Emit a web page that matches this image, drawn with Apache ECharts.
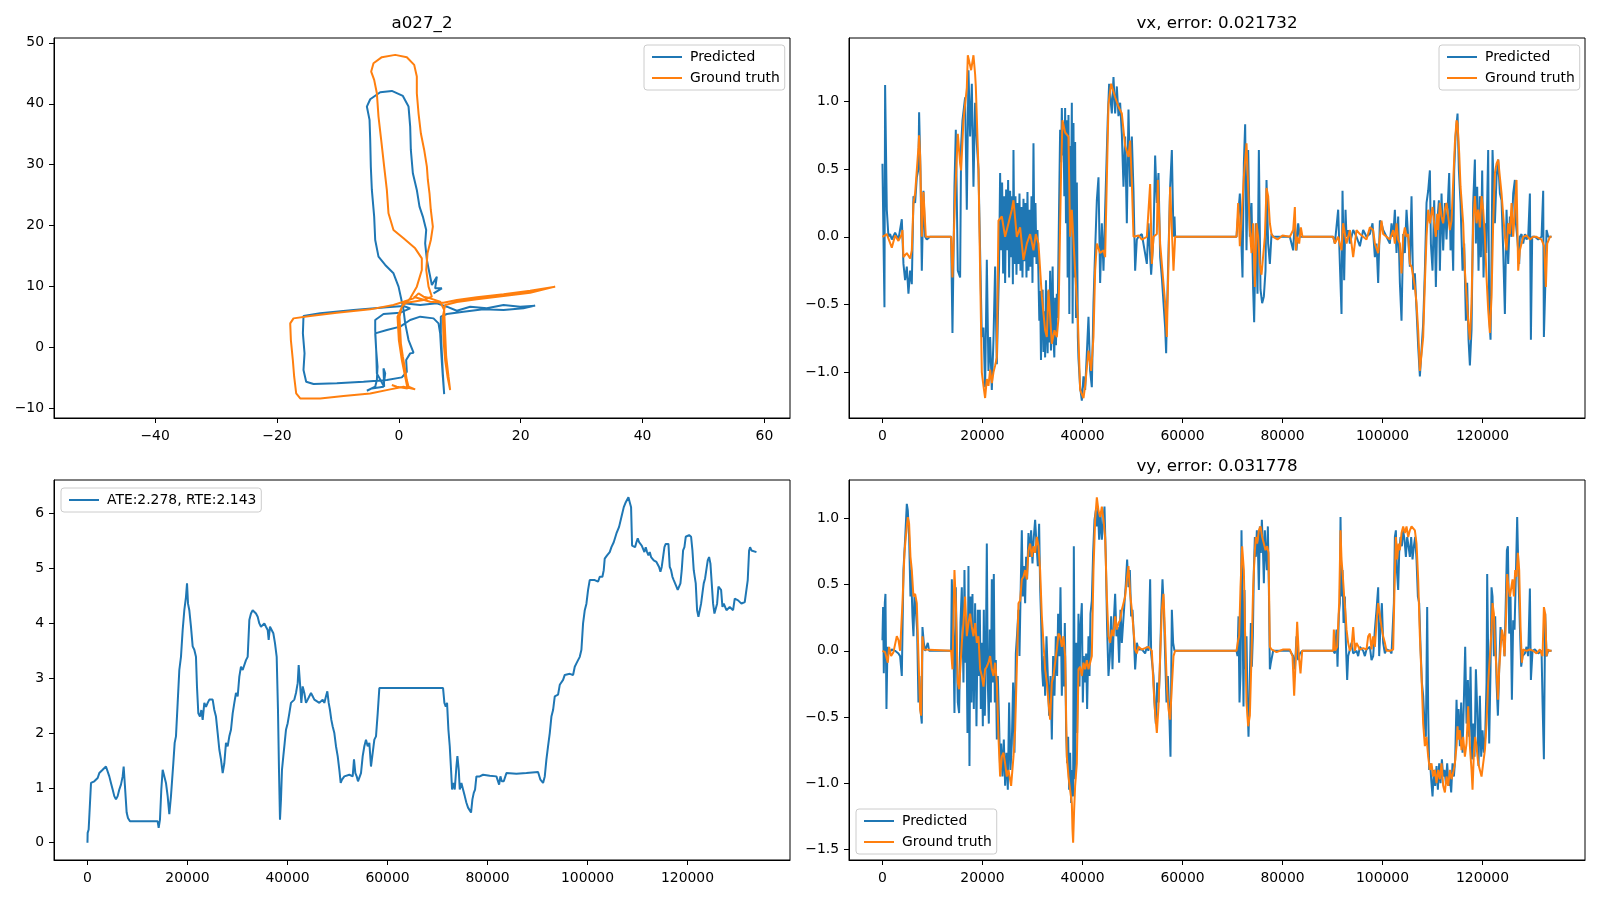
<!DOCTYPE html>
<html>
<head>
<meta charset="utf-8">
<title>a027_2</title>
<script src="https://cdn.jsdelivr.net/npm/echarts@6.0.0/dist/echarts.min.js"></script>
<style>
html, body { margin: 0; padding: 0; background: #fff; }
#chart { width: 1600px; height: 900px; }
</style>
</head>
<body>
<div id="chart"></div>
<script>
// ---------- tick labels ----------
var trajXTicks = [-40, -20, 0, 20, 40, 60];
var trajYTicks = [-10, 0, 10, 20, 30, 40, 50];
var timeTicks = [0, 20000, 40000, 60000, 80000, 100000, 120000];
var vxTicks = [-1.0, -0.5, 0.0, 0.5, 1.0];
var vyTicks = [-1.5, -1.0, -0.5, 0.0, 0.5, 1.0];
var ateTicks = [0, 1, 2, 3, 4, 5, 6];

var titles = ['a027_2', 'vx, error: 0.021732', 'vy, error: 0.031778'];
var ateLabel = 'ATE:2.278, RTE:2.143';

// ---------- trajectory [x, y] ----------
var trajPred = [[0.77,7.23],[3.50,6.96],[6.24,7.23],[7.88,6.68],[9.52,6.02],[11.71,6.68],[14.44,6.41],[17.18,6.96],[19.91,6.68],[22.37,6.85],
  [20.46,6.41],[17.18,6.13],[13.89,6.24],[10.61,5.86],[7.88,5.48],[6.89,5.04],[6.89,2.30],[7.06,-0.99],[7.22,-4.27],[7.44,-7.67],
  [7.22,-4.82],[7.0,-1.53],[6.78,2.30],[6.51,3.94],[5.69,4.76],[3.50,5.04],[1.86,4.49],[0.22,3.40],[-1.97,2.85],[-3.88,2.30],
  [-3.72,-0.44],[-3.50,-3.18],[-3.61,-5.37],[-3.88,-6.46],[-5.25,-7.12],[-4.43,-6.74],[-2.52,-6.46],[-2.24,-4.27],[-2.52,-3.45],[-2.41,-6.46],
  [-3.61,-4.27],[-3.72,-0.44],[-3.88,2.85],[-3.88,4.49],[-2.52,5.48],[0.22,5.70],[1.86,6.41],[0.77,6.79],[-1.97,6.57],[-7.44,6.13],
  [-12.91,5.59],[-15.65,5.15],[-15.75,2.30],[-15.48,-0.99],[-15.65,-3.72],[-15.21,-5.64],[-14.0,-6.02],[-10.18,-5.91],[-5.80,-5.64],[-1.97,-5.37],
  [0.49,-4.93],[1.31,-4.0],[1.20,-2.08],[1.86,-0.99],[2.41,-0.88],[1.59,1.20],[1.04,3.94],[0.77,6.13],[0.49,7.50],[-0.05,9.97],
  [-0.88,12.16],[-2.24,13.53],[-3.34,14.90],[-3.88,17.63],[-4.05,21.47],[-4.43,25.85],[-4.60,29.68],[-4.70,34.06],[-4.81,37.35],[-5.25,39.54],
  [-4.70,40.74],[-3.06,41.89],[-1.15,42.11],[0.66,41.29],[1.59,39.54],[1.86,36.25],[1.97,32.42],[2.30,28.59],[2.95,25.85],[3.39,23.11],
  [3.94,21.47],[4.49,19.28],[4.32,17.09],[4.60,14.35],[5.03,12.16],[5.42,10.24],[6.24,11.61],[5.96,9.69],[7.06,9.69],[5.69,8.87]];

var trajTrue = [[2.41,8.32],[5.14,7.50],[7.33,7.34],[9.52,7.78],[12.80,8.21],[17.18,8.71],[21.55,9.31],[25.66,9.97],[25.38,9.69],[21.55,8.98],
  [17.18,8.43],[12.80,7.89],[9.52,7.45],[7.60,6.96],[7.22,5.04],[7.33,1.20],[7.60,-2.08],[7.99,-4.82],[8.42,-7.01],[8.15,-4.82],
  [7.77,-1.53],[7.60,2.30],[7.44,6.13],[6.78,7.50],[5.14,8.05],[4.05,8.32],[3.23,8.87],[2.41,8.05],[0.77,7.50],[-0.88,6.96],
  [-4.70,6.24],[-10.18,5.70],[-14.55,5.15],[-17.29,4.76],[-17.83,3.94],[-17.72,1.20],[-17.40,-2.08],[-17.18,-4.82],[-16.85,-7.56],[-16.19,-8.38],
  [-12.91,-8.38],[-9.08,-8.0],[-4.70,-7.56],[-1.42,-6.90],[0.77,-6.46],[2.68,-6.90],[1.59,-6.46],[1.31,-5.37],[1.04,-3.72],[0.66,-1.53],
  [0.33,0.66],[0.22,2.85],[0.11,5.04],[0.49,6.68],[1.86,8.05],[2.95,9.97],[3.77,12.71],[3.77,14.62],[2.68,16.26],[0.77,17.91],
  [-0.88,19.28],[-1.70,22.02],[-1.97,25.85],[-2.41,29.68],[-2.90,34.06],[-3.34,37.90],[-3.61,41.73],[-4.05,43.92],[-4.54,45.29],[-4.16,46.66],
  [-2.79,47.65],[-0.60,48.03],[1.31,47.65],[2.52,46.39],[2.95,44.47],[2.95,41.73],[3.23,38.44],[3.61,35.16],[4.16,32.42],[4.60,29.68],
  [4.76,27.49],[5.03,25.30],[5.25,22.56],[5.58,19.82],[5.25,17.63],[4.70,15.44],[4.49,12.71],[4.87,9.97],[5.42,8.32],[4.05,7.78],
  [0.77,7.23],[-0.22,5.04],[0,1.20],[0.49,-2.08],[1.04,-4.82],[1.42,-6.74],[-0.33,-6.46],[-1.15,-6.19]];

// ---------- vx [sample, value] ----------
var vxPred = [[0,0.54],[200,0.0],[400,-0.52],[530,1.12],[870,0.2],[1200,0],[1530,0.02],[1870,-0.02],[2530,0.03],[3200,-0.02],
  [3870,0.13],[4200,-0.2],[4530,-0.32],[4870,-0.22],[5200,-0.42],[5530,-0.25],[5870,-0.35],[6200,0.3],[6530,0.25],[6870,0.44],
  [7200,0.5],[7330,0.92],[7600,0.49],[7870,-0.25],[8200,0.34],[8530,0],[8870,-0.02],[9200,-0.03],[9500,0],[13730,0],
  [14000,-0.71],[14400,0.37],[14670,0.79],[15070,-0.25],[15530,-0.3],[15730,0.67],[16000,0.86],[16530,1.03],[16870,0.2],[17200,1.23],
  [17530,0.74],[17870,1.13],[18200,0.37],[18530,0.99],[18870,0.69],[19200,0.5],[19870,-0.74],[20200,-0.67],[20530,-1.11],[20870,-0.17],
  [21200,-0.99],[21530,-0.74],[21870,-1.13],[22200,-0.76],[22530,-0.22],[22870,-0.94],
  [23330,-0.2],[23530,0.47],[23730,-0.1],[23930,0.4],[24130,-0.27],[24330,0.3],[24530,-0.34],[24730,0.35],[24930,-0.1],[25130,0.42],
  [25330,-0.3],[25530,0.34],[25730,-0.15],[25930,0.3],[26080,-0.35],[26200,0.64],[26400,-0.2],[26600,0.3],[26800,-0.28],[27000,0.25],
  [27200,-0.2],[27400,0.32],[27600,-0.25],[27800,0.22],[28000,-0.3],[28200,0.28],[28400,-0.18],[28600,0.25],[28800,-0.3],[29000,0.33],
  [29200,-0.25],[29400,0.2],[29600,-0.22],[29800,0.3],[30000,-0.34],[30200,0.69],[30400,-0.15],[30600,0.25],[30800,-0.2],[31000,0.05],
  [31200,-0.3],[31370,-0.62],[31530,-0.4],[31700,-0.91],[31870,-0.5],[32030,-0.39],[32200,-0.85],[32370,-0.55],[32530,-0.89],[32700,-0.32],
  [32870,-0.7],[33030,-0.86],[33200,-0.4],[33370,-0.78],[33530,-0.25],[33700,-0.84],[33870,-0.5],[34030,-0.22],[34200,-0.75],[34370,-0.89],
  [34530,-0.45],[34700,-0.8],[34870,-0.42],[35030,-0.6],[35330,0.25],[35530,0.79],[35730,0.55],[35870,0.95],[36030,0.6],[36200,0.8],
  [36370,0.3],[36530,0.95],[36700,0.1],[36870,0.86],[37030,-0.3],[37200,0.9],[37370,-0.57],[37530,0.67],[37700,0.2],[37870,0.99],
  [38030,-0.64],[38200,0.84],[38370,-0.3],[38530,0.7],[38700,-0.6],[38870,0.4],[39070,-0.74],[39200,-0.9],[39530,-1.11],[39870,-1.21],
  [40200,-1.03],[40530,-1.13],[40870,-0.86],[41200,-0.59],[41530,-0.99],[41870,-1.11],[42200,-0.49],[42530,-0.1],[42870,0.27],[43200,0.44],
  [43530,-0.34],[43870,0.1],[44200,-0.25],[44530,0.2],
  [45070,0.89],[45330,1.13],[45870,0.91],[46200,1.18],[46530,0.91],[46870,1.11],[47200,0.89],[47530,0.99],[47870,0.76],[48200,0.37],
  [48530,0.74],[48870,0.1],[49200,0.94],[49530,0.37],[49870,0.74],[50200,0.34],[50530,-0.25],[50870,-0.02],[51200,0],[51870,0.02],
  [52870,-0.2],[53200,0.1],[53730,-0.28],[54200,0],[54530,0.6],[54870,0.25],[55200,0.47],[55530,-0.15],[55870,-0.3],[56530,-0.67],
  [56730,-0.86],[56870,-0.6],[57530,0.37],[57870,0.64],[58200,0],[58400,0.15],[58530,0],[70800,0],[71130,0],[71470,0.32],
  [71800,-0.07],[72000,-0.3],[72270,0.54],[72530,0.83],[72800,-0.1],[73130,0.64],[73470,0],[73800,0.25],[74130,-0.39],[74330,-0.63],
  [74670,0.1],[75000,-0.42],[75270,0.64],[75600,-0.39],[75930,-0.49],[76270,-0.44],[76600,-0.25],[76800,0.42],[77130,-0.05],[77470,-0.2],
  [77800,0.02],[78130,0],[81470,0],[82130,-0.1],[82470,0.12],[82800,-0.1],[83130,0.1],[83470,0],[84000,0],[90130,0],
  [90470,-0.05],[91130,0.2],[91470,-0.2],[91800,-0.57],[92000,0.34],[92330,-0.32],[92600,0.2],[92800,0],[93130,0.05],[93470,-0.05],
  [94130,0.05],[94800,0],[95470,-0.07],[96130,0.05],[96800,0],[97470,0.02],[98000,0.1],[98470,-0.15],[98800,-0.05],[99130,-0.34],
  [99470,0.12],[99800,0.1],[100130,0.05],[100800,0],[101470,-0.05],[101800,0.1],[102130,0],[102470,0.2],[102800,-0.12],[103130,0.15],
  [103470,-0.34],[103800,-0.62],[104130,0.02],[104470,-0.12],[104800,0.2],[105130,0],[105470,-0.22],[105800,0.3],[106130,-0.39],[106470,-0.27],
  [106800,-0.54],[107130,-0.81],[107470,-1.03],[107800,-1.03],[108130,-0.64],[108470,-0.25],[108800,0.25],[109130,0.34],[109470,0.49],[109670,-0.05],
  [110000,-0.25],[110330,0.27],[110670,-0.37],[110930,0.1],[111270,0.27],[111470,-0.25],[111800,0.32],[112130,-0.1],[112470,0.25],[112800,-0.02],
  [113130,0.3],[113330,0.47],[113600,-0.1],[113800,0.2],[114130,-0.25],[114330,0.49],[114600,0.74],[115000,0.91],[115270,0.49],[115600,0.25],
  [116000,-0.25],[116330,-0.05],[116670,-0.62],[116930,-0.34],[117200,-0.76],[117470,-0.95],[117800,-0.69],[118130,0.25],[118470,0.57],[118670,-0.05],
  [118930,0.37],[119200,-0.25],[119470,0.3],[119670,-0.15],[119930,0.49],[120200,-0.3],[120470,0.1],[120730,-0.12],[121130,0.64],[121330,-0.57],
  [121600,-0.76],[121800,-0.15],[122000,0.64],[122270,0.32],[122470,0.1],[122800,0.44],[123130,0.57],[123470,0.32],[123800,0.27],[124130,-0.1],
  [124470,-0.57],[124800,0.2],[125130,-0.2],[125470,0.15],[125800,0],[126130,0.32],[126470,0.42],[126670,0.1],[126930,0],[127330,-0.2],
  [127470,0],[127800,0.02],[128130,-0.05],[128470,0.02],[128800,-0.02],[129130,0],[129470,0.32],[129670,-0.76],[129930,0],[130470,0],
  [131130,-0.02],[131800,0],[132130,0.34],[132270,-0.74],[132530,-0.39],[132800,0.05],[133130,0],[133800,0]];

var vxTrue = [[0,0],[870,0.02],[1870,-0.08],[2530,0.01],[3200,-0.03],[3870,0.02],[4000,0.05],[4200,-0.15],[4870,-0.12],[5530,-0.16],
  [5870,-0.1],[6200,0.25],[6530,0.32],[7200,0.66],[7330,0.75],[7530,0.6],[7870,0],[8200,0.33],[8670,0],[13730,0],
  [14000,-0.3],[14530,0.3],[15070,0.76],[15530,0.54],[15730,0.49],[16200,0.86],[16870,1.1],[17070,1.34],[17200,1.34],[17730,1.23],
  [18200,1.34],[18530,1.2],[18670,1.11],[19200,0.5],[19530,-0.25],[19870,-1.0],[20200,-1.1],[20530,-1.19],[20870,-1.05],[21200,-1.1],
  [21530,-0.98],[21870,-1.08],[22200,-1.0],[22530,-0.95],[22870,-0.89],[23200,0.12],[23530,0.12],[23870,0.15],[24530,0],[25200,0.1],
  [25870,0.2],[26200,0.27],[26870,0],[27530,0.07],[28200,-0.17],[28870,-0.05],[29530,0.02],[30200,-0.1],[30670,0.02],[31200,-0.05],
  [31870,-0.44],[32530,-0.69],[32870,-0.74],[33200,-0.39],[33870,-0.79],[34400,-0.69],[34870,-0.74],[35200,-0.6],[35730,0.5],[36000,0.86],
  [36530,0.77],[37200,0.74],[37530,0],[37870,0.2],[38530,-0.25],[39070,-0.6],[39530,-1.13],[40200,-1.19],[40530,-1.1],[41200,-0.84],
  [41730,-0.99],[42200,-0.74],[42530,-0.25],[42870,-0.05],[43530,-0.12],[44200,-0.1],[44530,-0.15],[45200,0.98],[45730,1.13],[46530,1.03],
  [47200,0.96],[47870,0.91],[48530,0.67],[49200,0.59],[49530,0.71],[49870,0.4],[50200,0],[51200,0.01],[51870,-0.02],[52870,0],
  [53530,0.39],[53870,-0.2],[54200,0],[54870,0.02],[55070,0.42],[55530,-0.05],[56530,-0.49],[56870,-0.74],[57530,0.37],[58200,-0.25],
  [58530,0],[70800,0],[71130,0.25],[71470,-0.07],[72270,0.44],[72800,0.69],[73470,0.05],[73800,-0.12],[74130,0.1],[74470,-0.37],
  [74800,0.1],[75130,0],[75470,-0.2],[75800,-0.28],[76470,0],[76800,0.36],[77130,0.3],[77470,0.1],[77800,0.02],[78130,0],
  [79000,-0.02],[80000,0.01],[81470,0],[82130,0.05],[82470,0.22],[82670,-0.1],[82930,0],[83330,-0.05],[83670,0.07],[84000,0],
  [90130,0],[90470,-0.05],[91130,0],[91800,-0.1],[92130,0.1],[92800,-0.05],[93470,0.05],[94130,-0.15],[94800,0.05],[95470,0.02],
  [96130,0],[96800,-0.02],[97470,0.07],[98130,0.05],[98470,-0.05],[99130,-0.12],[99470,0],[99800,0.12],[100130,0.02],[100800,0],
  [101470,-0.02],[102130,0.05],[102470,-0.05],[102800,0.1],[103130,-0.02],[103470,-0.05],[103800,-0.27],[104130,0],[104470,0.07],[104800,0],
  [105130,0.02],[105470,-0.2],[105800,-0.22],[106470,-0.37],[106800,-0.49],[107130,-0.69],[107470,-0.99],[107800,-0.99],[108130,-0.74],[108470,-0.34],
  [108800,0],[109130,0.2],[109470,0.1],[110000,0.22],[110330,0.1],[110670,0],[110930,0.17],[111130,0.05],[111470,0.25],[111800,0.15],
  [112130,0.1],[112470,0.2],[112800,0.25],[113130,0.15],[113470,0.05],[113800,0.12],[114470,0.69],[114800,0.86],[115000,0.84],[115330,0.62],
  [115600,0.37],[116130,0.1],[116470,-0.25],[116800,-0.44],[117130,-0.62],[117470,-0.76],[117800,-0.49],[118130,0.1],[118470,0.3],[118800,0.1],
  [119130,0.2],[119470,0.07],[119800,0.3],[120130,0.2],[120470,0],[120800,-0.3],[121130,-0.54],[121470,-0.71],[121800,-0.44],[122130,0.1],
  [122470,0.47],[122800,0.54],[123130,0.57],[123470,0.44],[123800,0.32],[124470,0],[124800,-0.1],[125130,0.1],[125470,0.02],[125800,0.25],
  [126130,0],[126470,0.2],[126800,0.42],[127130,-0.25],[127470,-0.1],[128130,0],[128800,0.01],[129470,-0.02],[130130,0],[130800,0],
  [131800,-0.02],[132330,-0.07],[132670,-0.37],[132930,-0.05],[133470,0],[133800,0]];

// ---------- vy [sample, value] ----------
var vyPred = [[0,0.08],[130,0.33],[270,-0.17],[470,0.36],[600,0.43],[800,-0.44],[1000,0.03],[1200,-0.02],[1870,0.01],[2530,0],
  [3200,-0.02],[3530,-0.04],[3870,-0.19],[4200,0.61],[4530,0.84],[4870,1.11],[5070,1.06],[5330,0.86],[5600,0.41],[5730,0.61],
  [6000,0.26],[6200,0.11],[6400,0.41],[6670,0.31],[6930,0.16],[7200,-0.39],[7400,-0.19],[7600,-0.44],[7870,-0.55],[8000,0.18],
  [8270,0.06],[8530,0],[9070,0.06],[9330,0],[13730,0],[13870,0.54],[14200,0.06],[14400,-0.47],[14670,0.48],[14870,-0.04],
  [15070,-0.39],[15330,-0.47],[15600,0.21],[15870,0.48],[16200,-0.24],[16400,0.61],[16600,-0.09],[16800,0.16],[17000,-0.62],[17200,0.64],
  [17400,-0.87],[17600,0.41],[17800,-0.39],[18000,0.43],[18270,-0.44],[18530,0.36],[18800,-0.57],[19070,0.31],[19270,-0.19],[19470,0.31],
  [19670,-0.44],[19870,0.06],[20070,-0.57],[20270,0.31],[20470,-0.49],[20670,-0.04],[20870,0.81],[21070,-0.24],[21270,-0.55],[21470,0.16],
  [21670,-0.39],[21870,0.54],[22070,-0.24],[22270,0.58],[22470,-0.39],[22670,-0.07],[22870,-0.67],[23070,-0.19],[23330,-0.55],[23530,-0.9],
  [23730,-0.7],[24000,-0.95],[24270,-0.67],[24530,-1.02],[24800,-0.77],[25070,-1.05],[25330,-0.39],[25600,-0.9],[25870,-0.7],[26130,-0.24],
  [26400,-0.77],[26670,-0.02],[26930,0.13],[27200,0.31],[27400,-0.04],[27600,0.38],[27870,0.91],[28070,0.41],[28270,0.64],[28530,0.36],
  [28730,0.71],[28930,0.54],[29200,0.89],[29470,0.71],[29730,0.91],[30000,0.66],[30270,0.86],[30530,0.99],[30800,0.81],[31070,0.64],
  [31330,0.96],[31530,0.48],[31730,0.23],[31930,-0.14],[32130,-0.27],[32330,-0.04],[32530,-0.34],[32800,0.11],[33070,-0.19],[33330,-0.49],
  [33600,-0.19],[33870,-0.67],[34130,-0.04],[34400,-0.34],[34670,0.11],[34930,-0.19],[35130,0.28],[35400,-0.04],[35600,0.48],[35870,-0.34],
  [36070,0.06],[36270,-0.27],[36470,0.21],[36730,-0.6],[36930,-0.85],[37130,-0.65],[37330,-1.05],[37530,-0.77],[37730,-1.15],[37930,-0.9],
  [38130,-1.1],[38270,0.79],[38530,-0.97],[38730,0.06],[38930,-0.62],[39200,0.28],[39400,-0.27],[39600,0.18],[39870,0.36],[40070,-0.39],
  [40270,-0.04],[40530,-0.24],[40730,-0.02],[40930,-0.44],[41200,0.11],[41400,-0.19],[41600,0.28],[41870,0.38],[42130,0.74],[42400,0.99],
  [42670,1.06],[42870,0.94],[43070,1.09],[43330,0.84],[43600,1.04],[43870,0.84],[44130,0.96],[44400,1.09],[44670,0.69],[44930,0.16],
  [45200,-0.19],[45470,-0.04],[45730,0.26],[46000,-0.14],[46270,0.23],[46530,0.43],[46800,0.11],[47070,0.18],[47330,-0.09],[47600,0.31],
  [47870,0.06],[48130,0.21],[48400,0.36],[48670,0.51],[48930,0.69],[49200,0.48],[49470,0.61],[49730,0.26],[50000,0.31],[50270,0.11],
  [50530,-0.14],[50870,0.06],[51200,0.01],[51870,0.01],[52530,-0.02],[52870,0.03],[53200,0],[53530,0.54],[53730,-0.02],[54200,-0.19],
  [54400,-0.39],[54670,-0.55],[54930,-0.24],[55200,-0.39],[55470,-0.14],[55730,0.26],[56000,0.54],[56270,0.31],[56530,-0.04],[56800,-0.39],
  [57070,-0.19],[57330,-0.44],[57600,-0.8],[57870,0.31],[58130,0.06],[58400,0],[70800,0],[71000,-0.04],[71200,0.26],[71400,-0.39],
  [71600,-0.17],[71800,0.91],[72000,0.31],[72200,-0.42],[72400,0.46],[72600,-0.14],[72800,0.11],[73000,-0.39],[73200,-0.65],[73400,-0.34],
  [73670,0.21],[73870,-0.12],[74070,0.11],[74270,0.61],[74470,0.86],[74670,0.71],[74870,0.91],[75070,0.79],[75270,0.46],[75470,0.94],
  [75670,0.74],[75870,0.99],[76070,0.79],[76270,0.51],[76470,0.91],[76670,0.74],[76870,0.61],[77070,0.94],[77270,0.48],[77470,-0.14],
  [77670,-0.09],[78130,0],[81470,0],[82130,-0.04],[82470,-0.14],[82800,0.11],[83130,-0.07],[83470,-0.02],[84000,0],[90130,0],
  [90470,-0.02],[90800,0.16],[91000,-0.12],[91270,0.28],[91470,0.36],[91600,1.01],[91800,0.41],[92000,0.61],[92200,0.21],[92470,0.41],
  [92670,0.06],[92930,-0.22],[93130,-0.04],[93470,0.01],[93800,0.06],[94130,-0.02],[94800,0],[95130,-0.04],[95470,0.03],[96130,0],
  [96470,-0.04],[96800,0.01],[97470,0.03],[97800,-0.07],[98130,-0.04],[98470,0.16],[98800,0.31],[99130,0.48],[99330,-0.04],[99600,0.18],
  [99870,0.36],[100130,0.06],[100470,-0.02],[100800,0.01],[101470,0],[101800,-0.02],[102270,0.36],[102470,0.86],[102670,0.91],[102870,0.61],
  [103130,0.46],[103330,0.74],[103600,0.86],[103870,0.79],[104130,0.91],[104400,0.84],[104670,0.71],[104930,0.86],[105200,0.79],[105470,0.71],
  [105730,0.86],[106000,0.69],[106270,0.79],[106530,0.86],[106800,0.69],[107070,0.41],[107330,0.36],[107600,0.03],[107870,-0.24],[108130,-0.34],
  [108400,-0.55],[108670,-0.65],[108930,0.33],[109130,-0.44],[109330,-0.9],[109530,-0.85],[109730,-0.97],[110000,-1.1],[110270,-0.9],[110530,-1.02],
  [110800,-0.87],[111070,-1.05],[111330,-0.85],[111600,-1.0],[111870,-0.82],[112130,-0.95],[112400,-0.9],[112670,-1.0],[112930,-0.85],[113200,-1.02],
  [113470,-0.95],[113730,-1.07],[114000,-0.85],[114270,-0.95],[114530,-0.82],[114800,-0.37],[115000,-0.65],[115200,-0.44],[115470,-0.72],[115730,-0.39],
  [116000,-0.77],[116270,-0.37],[116530,0.03],[116800,-0.55],[117070,-0.22],[117330,-0.65],[117600,-0.12],[117870,-0.82],[118130,-0.55],[118400,-0.8],
  [118670,-0.14],[118930,-0.44],[119200,-0.87],[119470,-0.34],[119730,-0.8],[120000,-0.6],[120270,-0.77],[120530,-0.65],[120800,-0.24],[120930,0.58],
  [121130,-0.04],[121330,-0.7],[121600,-0.14],[121800,0.48],[122000,0.41],[122270,-0.04],[122530,0.26],[122800,-0.24],[123070,-0.49],[123330,-0.14],
  [123600,0.18],[123870,0.08],[124130,0.11],[124400,-0.04],[124670,0.41],[124870,0.76],[125070,0.79],[125330,0.13],[125600,0.41],[125870,-0.37],
  [126130,0.23],[126400,0.16],[126670,0.58],[126930,1.01],[127200,0.54],[127470,0.18],[127730,-0.12],[128000,-0.04],[128470,-0.02],[128800,0.03],
  [129130,-0.04],[129470,0.47],[129670,-0.22],[130000,0],[130470,0.01],[131130,-0.02],[131800,0],[132000,-0.39],[132270,-0.82],[132530,0.28],
  [132800,-0.04],[133130,0],[133800,0]];

var vyTrue = [[0,0],[530,-0.01],[1070,-0.09],[1330,0.03],[1730,-0.04],[2200,-0.01],[2870,0.11],[3200,0.08],[3530,0],[4000,0.36],
  [4400,0.74],[4670,0.86],[5070,1.01],[5330,0.96],[5600,0.71],[5870,0.61],[6200,0.41],[6530,0.43],[6870,0.36],[7200,-0.04],
  [7530,-0.44],[7730,-0.49],[8000,0.11],[8270,0.01],[8530,0],[13730,0],[14000,-0.14],[14400,0.61],[14670,0.36],[15070,-0.24],
  [15330,-0.29],[15870,0.06],[16200,0.21],[16530,0.41],[16870,0.11],[17200,0.21],[17530,0.28],[17870,0.18],[18200,0.11],[18530,0.21],
  [18870,0.06],[19200,0.11],[19530,-0.14],[19870,-0.19],[20200,-0.27],[20530,-0.14],[20870,-0.12],[21200,-0.09],[21530,-0.04],[21870,-0.14],
  [22200,-0.19],[22530,-0.09],[22870,-0.24],[23200,-0.65],[23530,-0.95],[23870,-0.8],[24200,-0.77],[24530,-0.85],[24870,-0.95],[25200,-0.9],
  [25730,-1.02],[26200,-0.8],[26530,-0.6],[26930,-0.04],[27200,0.36],[27530,0.38],[27870,0.54],[28200,0.56],[28530,0.61],[28870,0.54],
  [29200,0.76],[29530,0.81],[29870,0.71],[30200,0.79],[30530,0.74],[30870,0.86],[31200,0.79],[31530,0.61],[31870,0.26],[32200,0.06],
  [32530,-0.14],[32870,-0.24],[33200,-0.39],[33530,-0.52],[33870,-0.24],[34200,-0.19],[34530,-0.09],[34870,0.01],[35200,0.13],[35530,0.11],
  [35870,0.03],[36200,0.11],[36530,-0.04],[36870,-0.8],[37200,-0.95],[37530,-1.05],[37870,-1.15],[38000,-1.35],[38130,-1.45],[38330,-1.2],
  [38530,-1.02],[38870,-0.85],[39200,-0.14],[39530,-0.12],[39870,-0.19],[40200,-0.09],[40530,-0.14],[40870,-0.07],[41200,-0.14],[41530,-0.09],
  [41870,-0.04],[42200,0.61],[42530,0.99],[42870,1.16],[43200,1.06],[43530,1.01],[43870,1.09],[44200,0.99],[44530,0.86],[44870,0.41],
  [45200,0.11],[45530,0.06],[45870,0.16],[46200,0.11],[46530,0.26],[46870,0.16],[47200,0.21],[47530,0.23],[47870,0.31],[48200,0.36],
  [48530,0.41],[48870,0.54],[49200,0.64],[49530,0.43],[49870,0.31],[50200,0.16],[50530,0.01],[50870,-0.02],[51200,0.03],[51870,0.01],
  [52530,0.02],[53200,0.03],[53870,0],[54200,-0.27],[54530,-0.47],[54870,-0.62],[55200,-0.42],[55530,-0.04],[55870,0.31],[56200,0.43],
  [56530,0.11],[56870,-0.27],[57200,-0.44],[57530,-0.52],[57870,-0.27],[58200,-0.04],[58530,0],[70800,0],[71130,0.08],[71330,0.11],
  [71600,0.48],[71930,0.79],[72270,0.61],[72530,0.11],[72800,-0.39],[73130,-0.57],[73470,-0.49],[73800,-0.04],[74130,0.48],[74470,0.76],
  [74670,0.86],[74930,0.81],[75270,0.91],[75600,0.94],[75930,0.86],[76270,0.81],[76600,0.76],[76930,0.79],[77200,0.74],[77470,0.03],
  [77800,0.01],[78800,-0.01],[80130,0.01],[81470,0.01],[82000,-0.04],[82330,-0.34],[82670,-0.04],[82930,0.22],[83270,-0.04],[83600,-0.17],
  [83930,0],[90130,0],[90270,0.16],[90530,0],[90930,0.03],[91330,0.36],[91600,0.91],[91800,0.69],[92070,0.56],[92330,0.41],
  [92600,0.28],[92800,0.16],[93130,0.06],[93470,0],[93800,0.03],[94130,0.18],[94470,0],[94800,0.06],[95470,0.01],[96130,0.02],
  [96800,0.01],[97130,0.11],[97470,0.13],[97800,0.01],[98130,0.11],[98470,0.03],[98800,0.21],[99130,0.36],[99470,0.36],[99800,0.18],
  [100130,0.11],[100470,0.06],[100800,0],[101470,0],[102130,0.01],[102400,0.48],[102670,0.86],[102930,0.69],[103200,0.81],[103470,0.76],
  [103800,0.89],[104130,0.94],[104470,0.89],[104800,0.94],[105130,0.86],[105470,0.91],[105800,0.94],[106130,0.95],[106470,0.91],[106800,0.81],
  [107130,0.54],[107470,0.11],[107800,-0.19],[108130,-0.55],[108470,-0.72],[108800,-0.65],[109130,-0.8],[109470,-0.9],[109800,-0.85],[110130,-0.95],
  [110470,-0.9],[110800,-1.0],[111130,-0.9],[111470,-0.97],[111800,-0.85],[112130,-1.02],[112470,-1.07],[112800,-0.95],[113130,-1.02],[113470,-0.9],
  [113800,-0.97],[114130,-0.92],[114470,-0.85],[114800,-0.72],[115000,-0.57],[115200,-0.67],[115470,-0.6],[115800,-0.75],[116130,-0.65],[116470,-0.8],
  [116800,-0.7],[117130,-0.42],[117470,-0.72],[117800,-0.9],[118000,-1.05],[118270,-0.77],[118530,-0.65],[118800,-0.72],[119130,-0.85],[119470,-0.9],
  [119800,-0.95],[120130,-0.85],[120470,-0.75],[120800,-0.55],[121130,-0.24],[121470,-0.04],[121800,0.16],[122000,0.36],[122270,0.28],[122530,0.01],
  [122800,-0.14],[123070,-0.37],[123330,-0.14],[123600,0.01],[123870,0.16],[124130,0.11],[124400,-0.04],[124670,0.23],[124930,0.58],[125200,0.48],
  [125470,0.41],[125730,0.41],[126000,0.54],[126270,0.41],[126530,0.61],[126800,0.56],[127070,0.74],[127330,0.61],[127600,0.18],[127870,-0.09],
  [128130,0.01],[128800,0],[129470,0.01],[130130,0],[130800,-0.02],[131470,0.01],[132000,-0.04],[132270,0.33],[132530,0.28],[132800,-0.04],
  [133070,0.01],[133470,0],[133800,0]];

// ---------- ATE [sample, error] ----------
var ateErr = [[0,0],[40,0.18],[240,0.24],[500,0.21],[710,1.09],[1040,1.09],[1370,1.12],[1700,1.09],[2040,1.18],[2370,1.27],
  [2700,1.27],[3040,1.33],[3370,1.36],[3700,1.39],[4040,1.42],[4370,1.21],[4700,1.09],[5040,0.97],[5370,0.85],[5700,0.79],
  [6040,0.85],[6370,0.97],[6700,1.06],[7040,1.21],[7240,1.39],[7500,1.03],[7840,0.55],[8100,0.45],[8500,0.39],[14040,0.39],
  [14240,0.27],[14500,0.42],[14770,0.97],[15040,1.33],[15370,1.30],[15700,1.09],[16040,0.85],[16370,0.52],[16700,0.85],[16900,0.82],
  [17170,1.45],[17440,1.82],[17700,1.94],[18040,2.55],[18370,3.15],[18700,3.39],[19040,3.88],[19370,4.24],[19700,4.48],[19910,4.73],
  [20110,4.36],[20370,4.24],[20700,3.94],[21040,3.58],[21370,3.52],[21700,3.39],[21900,2.85],[22170,2.36],[22500,2.30],[22770,2.42],
  [23040,2.24],[23370,2.55],[23700,2.48],[24040,2.55],[24370,2.61],[24700,2.61],[25040,2.61],[25370,2.42],[25700,2.30],[26040,2.0],
  [26370,1.70],[26700,1.52],[27040,1.27],[27370,1.45],[27700,1.82],[28040,1.76],[28370,1.94],[28700,2.06],[29040,2.36],[29370,2.55],
  [29700,2.73],[30040,2.67],[30370,3.03],[30700,3.21],[31040,3.15],[31370,3.15],[31700,3.33],[32040,3.39],[32370,4.06],[32700,4.18],
  [33040,4.24],[33370,4.27],[33700,4.18],[34040,4.12],[34370,4.0],[34700,3.94],[35040,3.94],[35370,4.0],[35700,3.94],[36040,3.88],
  [36240,3.70],[36500,3.94],[36840,3.94],[37170,3.82],[37500,3.64],[37840,3.39],[38100,2.42],[38300,1.33],[38500,0.42],[38700,0.79],
  [38900,1.33],[39170,1.58],[39440,1.82],[39700,2.06],[40040,2.18],[40370,2.36],[40700,2.55],[41040,2.55],[41370,2.61],[41700,2.73],
  [42040,2.91],[42240,3.24],[42500,2.91],[42770,2.55],[43040,2.85],[43370,2.73],[43700,2.55],[44040,2.61],[44370,2.67],[44700,2.73],
  [45040,2.67],[45370,2.61],[45700,2.61],[46370,2.55],[46700,2.55],[47040,2.61],[47370,2.55],[47700,2.67],[47970,2.76],[48240,2.55],
  [48500,2.42],[48770,2.24],[49040,2.12],[49370,2.0],[49700,1.76],[50040,1.58],[50370,1.33],[50640,1.09],[50900,1.15],[51370,1.21],
  [51700,1.24],[52370,1.24],[53040,1.21],[53300,1.52],[53570,1.27],[53840,1.21],[54100,1.12],[54370,1.15],[54700,1.27],[55040,1.58],
  [55370,1.76],[55700,1.88],[56040,1.76],[56370,1.82],[56700,1.39],[57040,1.39],[57370,1.88],[57700,1.94],[58040,2.36],[58370,2.82],
  [59040,2.82],[71110,2.82],[71380,2.55],[71650,2.48],[71910,2.55],[72180,2.06],[72450,1.76],[72710,1.33],[72910,0.97],[73180,1.09],
  [73450,0.97],[73780,1.39],[73980,1.58],[74250,1.33],[74450,0.97],[74780,1.09],[75110,0.97],[75450,0.85],[75780,0.73],[76110,0.64],
  [76450,0.61],[76710,0.55],[76980,0.79],[77250,0.91],[77510,0.97],[77780,1.21],[78450,1.21],[79110,1.24],[80450,1.22],[81780,1.21],
  [82320,1.06],[82580,1.21],[82850,1.12],[83250,1.12],[83780,1.27],[85780,1.26],[87780,1.27],[90110,1.29],[90580,1.15],[91110,1.09],
  [91450,1.21],[91780,1.52],[92110,1.76],[92450,2.0],[92780,2.30],[93110,2.42],[93450,2.67],[93780,2.70],[94110,2.70],[94450,2.88],
  [94780,2.88],[95110,2.97],[95450,3.06],[95780,3.08],[96450,3.08],[97110,3.06],[97450,3.21],[97780,3.27],[98110,3.33],[98450,3.39],
  [98780,3.52],[99110,4.0],[99450,4.24],[99780,4.36],[100110,4.61],[100440,4.79],[100780,4.79],[101440,4.79],[102110,4.76],[102440,4.85],
  [102980,4.85],[103240,4.97],[103440,5.18],[103910,5.24],[104440,5.30],[104780,5.39],[105240,5.48],[105780,5.64],[106310,5.76],[106780,5.94],
  [107250,6.12],[107650,6.21],[107910,6.24],[108180,6.30],[108440,6.21],[108710,6.12],[108910,5.42],[109240,5.42],[109510,5.39],[109780,5.48],
  [110040,5.55],[110310,5.48],[110580,5.48],[110840,5.42],[111110,5.36],[111380,5.30],[111640,5.39],[111910,5.30],[112180,5.24],[112440,5.30],
  [112710,5.21],[112980,5.18],[113240,5.15],[113510,5.18],[113780,5.12],[114040,5.09],[114310,5.03],[114580,4.94],[114840,5.03],[115110,5.21],
  [115380,5.39],[115640,5.45],[115910,5.48],[116180,5.45],[116440,5.03],[116710,4.97],[116980,4.85],[117240,4.79],[117510,4.73],[117780,4.67],
  [118040,4.61],[118310,4.67],[118580,4.73],[118840,4.97],[119110,5.33],[119380,5.39],[119640,5.58],[119910,5.61],[120310,5.61],[120710,5.58],
  [120980,5.33],[121240,4.97],[121440,4.85],[121640,4.73],[121910,4.24],[122180,4.12],[122440,4.12],[122710,4.36],[122980,4.55],[123240,4.73],
  [123510,4.82],[123780,4.85],[124040,5.15],[124310,5.21],[124580,5.09],[124840,4.73],[125110,4.36],[125380,4.18],[125640,4.15],[125910,4.36],
  [126180,4.67],[126440,4.67],[126710,4.61],[126980,4.30],[127240,4.36],[127510,4.30],[127780,4.24],[128110,4.27],[128440,4.30],[128780,4.27],
  [129110,4.24],[129440,4.45],[129780,4.42],[130110,4.42],[130440,4.39],[130780,4.36],[131110,4.36],[131440,4.39],[131780,4.42],[132040,4.79],
  [132310,5.33],[132510,5.39],[132780,5.33],[133110,5.30],[133780,5.30]];

// ---------- style ----------
var BLUE = '#1f77b4';
var ORANGE = '#ff7f0e';
var FONT = 'DejaVu Sans';

function fmtTick(v, digits) {
  var s = digits ? v.toFixed(digits) : String(Math.round(v));
  return s.replace('-', '\u2212');
}

function mkAxis(gi, min, max, ticks, digits, margin) {
  return {
    type: 'value', gridIndex: gi, min: min, max: max,
    splitLine: { show: false },
    axisLine: { show: true, onZero: false, lineStyle: { color: '#000', width: 1 } },
    axisTick: { show: true, length: 5, lineStyle: { color: '#000', width: 1 }, customValues: ticks },
    axisLabel: {
      customValues: ticks, margin: margin, color: '#000', fontFamily: FONT, fontSize: 13.9,
      formatter: function (v) { return fmtTick(v, digits); }
    }
  };
}

function mkLine(name, color, gi, data) {
  return {
    name: name, type: 'line', xAxisIndex: gi, yAxisIndex: gi, data: data,
    symbol: 'none', showSymbol: false, silent: true, clip: true,
    lineStyle: { color: color, width: 2 }, itemStyle: { color: color }
  };
}

function mkLegend(left, top, names) {
  return {
    left: left, top: top, orient: 'vertical', data: names,
    itemWidth: 30, itemHeight: 14, itemGap: 7,
    padding: [5, 5, 5, 7], selectedMode: false,
    backgroundColor: 'rgba(255,255,255,0.8)', borderColor: '#cccccc', borderWidth: 1, borderRadius: 3,
    itemStyle: { opacity: 0 },
    textStyle: { fontFamily: FONT, fontSize: 13.9, color: '#000', padding: [0, 0, 0, 3] }
  };
}

function mkGrid(left, top) {
  return { left: left, top: top, width: 736, height: 380, show: true, borderColor: '#000', borderWidth: 1, backgroundColor: 'transparent' };
}

var titleStyle = { fontFamily: FONT, fontSize: 16.7, fontWeight: 'normal', color: '#000' };
var tMin = -6690, tMax = 140490;

var option = {
  animation: false,
  backgroundColor: '#fff',
  title: [
    { text: titles[0], left: 422, top: 15, textAlign: 'center', padding: 0, textStyle: titleStyle },
    { text: titles[1], left: 1217, top: 15, textAlign: 'center', padding: 0, textStyle: titleStyle },
    { text: titles[2], left: 1217, top: 458, textAlign: 'center', padding: 0, textStyle: titleStyle }
  ],
  legend: [
    mkLegend(644, 45, ['Predicted', 'Ground truth']),
    mkLegend(1439, 45, ['Predicted', 'Ground truth']),
    mkLegend(61, 488, [ateLabel]),
    mkLegend(856, 809, ['Predicted', 'Ground truth'])
  ],
  grid: [mkGrid(54, 38), mkGrid(849, 38), mkGrid(54, 480), mkGrid(849, 480)],
  xAxis: [
    mkAxis(0, -56.6, 64.2, trajXTicks, 0, 11),
    mkAxis(1, tMin, tMax, timeTicks, 0, 11),
    mkAxis(2, tMin, tMax, timeTicks, 0, 11),
    mkAxis(3, tMin, tMax, timeTicks, 0, 11)
  ],
  yAxis: [
    mkAxis(0, -11.6, 50.8, trajYTicks, 0, 10),
    mkAxis(1, -1.3375, 1.4675, vxTicks, 1, 10),
    mkAxis(2, -0.315, 6.615, ateTicks, 0, 10),
    mkAxis(3, -1.5805, 1.2905, vyTicks, 1, 10)
  ],
  series: [
    mkLine('Predicted', BLUE, 0, trajPred),
    mkLine('Ground truth', ORANGE, 0, trajTrue),
    mkLine('Predicted', BLUE, 1, vxPred),
    mkLine('Ground truth', ORANGE, 1, vxTrue),
    mkLine(ateLabel, BLUE, 2, ateErr),
    mkLine('Predicted', BLUE, 3, vyPred),
    mkLine('Ground truth', ORANGE, 3, vyTrue)
  ]
};

var chart = echarts.init(document.getElementById('chart'), null, { renderer: 'canvas' });
chart.setOption(option);
</script>
</body>
</html>
